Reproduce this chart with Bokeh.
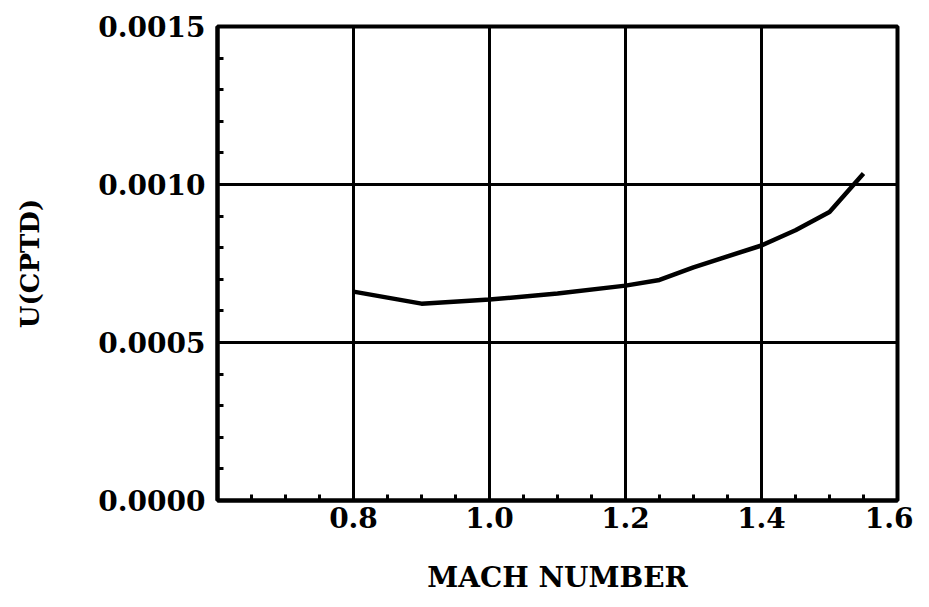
from bokeh.plotting import figure
from bokeh.models import FixedTicker, Range1d
from bokeh.embed import file_html
from bokeh.resources import INLINE

# Data
mach = [0.80, 0.90, 1.00, 1.10, 1.20, 1.25, 1.30, 1.40, 1.45, 1.50, 1.55]
u_cptd = [0.000661, 0.000623, 0.000636, 0.000655, 0.000680, 0.000698,
          0.000738, 0.000807, 0.000855, 0.000913, 0.001035]

x_ticks = [0.8, 1.0, 1.2, 1.4, 1.6]
x_minor = [0.65, 0.70, 0.75, 0.85, 0.90, 0.95, 1.05, 1.10, 1.15,
           1.25, 1.30, 1.35, 1.45, 1.50, 1.55]
x_grid = [0.8, 1.0, 1.2, 1.4]
y_ticks = [0.0, 0.0005, 0.0010, 0.0015]
y_minor = [0.0001, 0.0002, 0.0003, 0.0004, 0.0006, 0.0007, 0.0008, 0.0009,
           0.0011, 0.0012, 0.0013, 0.0014]
y_grid = [0.0005, 0.0010]

FONT = "DejaVu Serif"

p = figure(width=913, height=599, output_backend="svg", toolbar_location=None,
           x_range=Range1d(0.6, 1.6), y_range=Range1d(0.0, 0.0015),
           min_border_left=217, min_border_right=16, min_border_top=26,
           min_border_bottom=99)
p.background_fill_color = "white"
p.border_fill_color = "white"
p.outline_line_color = "black"
p.outline_line_width = 4

p.line(mach, u_cptd, line_color="black", line_width=4.5)

p.xaxis.ticker = FixedTicker(ticks=x_ticks, minor_ticks=x_minor)
p.yaxis.ticker = FixedTicker(ticks=y_ticks, minor_ticks=y_minor)
p.xgrid.ticker = FixedTicker(ticks=x_grid)
p.ygrid.ticker = FixedTicker(ticks=y_grid)
for g in (p.xgrid, p.ygrid):
    g.grid_line_color = "black"
    g.grid_line_width = 3
    g.grid_line_alpha = 1.0

p.xaxis.major_label_overrides = {t: f"{t:.1f}" for t in x_ticks}
p.yaxis.major_label_overrides = {t: f"{t:.4f}" for t in y_ticks}

for ax in (p.xaxis, p.yaxis):
    ax.axis_line_color = "black"
    ax.axis_line_width = 4
    ax.major_tick_in = 0
    ax.major_tick_out = 0
    ax.minor_tick_in = 6
    ax.minor_tick_out = 0
    ax.minor_tick_line_width = 3
    ax.minor_tick_line_color = "black"
    ax.major_label_text_font = FONT
    ax.major_label_text_font_style = "bold"
    ax.major_label_text_font_size = "28px"
    ax.major_label_text_color = "black"
    ax.axis_label_text_font = FONT
    ax.axis_label_text_font_style = "bold"
    ax.axis_label_text_color = "black"

p.xaxis.axis_label_text_font_size = "28px"
p.yaxis.axis_label_text_font_size = "26px"
p.xaxis.axis_label = "MACH NUMBER"
p.yaxis.axis_label = "U(CPTD)"
p.xaxis.major_label_standoff = 6
p.yaxis.major_label_standoff = 12
p.xaxis.axis_label_standoff = 30
p.yaxis.axis_label_standoff = 50

open("out.html", "w").write(file_html(p, INLINE))
